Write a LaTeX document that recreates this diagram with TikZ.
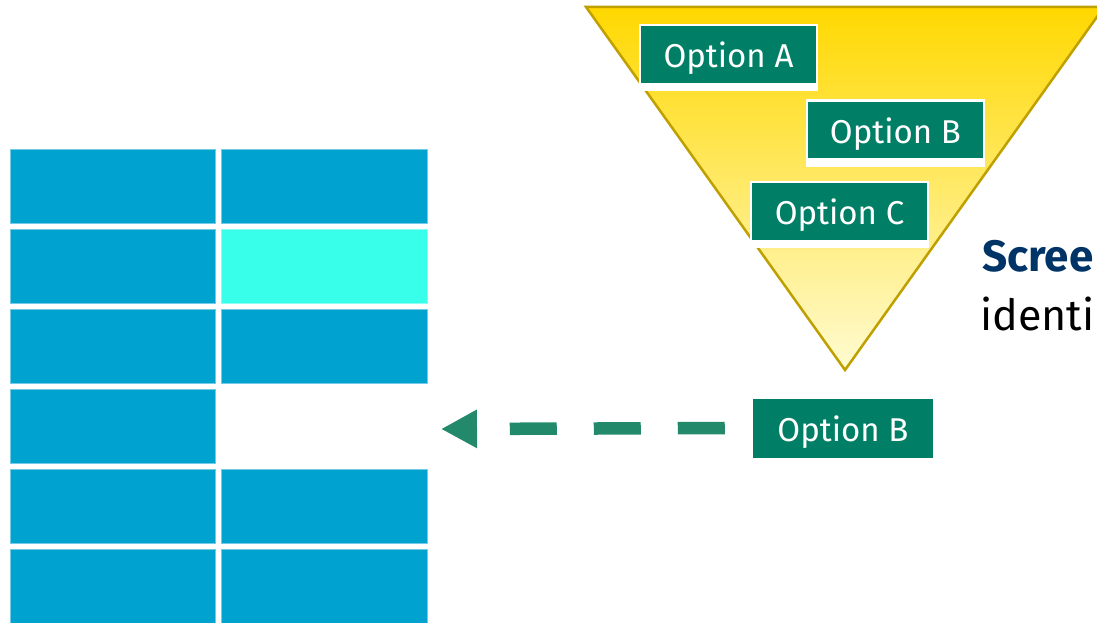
\documentclass[tikz,border=0pt]{standalone}
\usepackage{fontspec}
\setmainfont{Fira Sans}
\usetikzlibrary{arrows.meta}
\definecolor{cellblue}{HTML}{00A3D0}
\definecolor{cellcyan}{HTML}{38FFEA}
\definecolor{optgreen}{HTML}{007F66}
\definecolor{arrowgreen}{HTML}{22896A}
\definecolor{funnelgold}{HTML}{FFD800}
\definecolor{funnelpale}{HTML}{FFFBD2}
\definecolor{funneledge}{HTML}{BFA000}
\definecolor{screenblue}{HTML}{003366}
\begin{document}
\begin{tikzpicture}[x=1pt, y=-1pt,
  cell/.style={fill=cellblue, draw=cellblue!55!white, line width=1pt},
  optbox/.style={fill=optgreen, draw=white, line width=2.5pt, text=white,
    minimum width=177pt, minimum height=59pt, inner sep=0pt,
    text height=26pt, text depth=0pt, font=\fontsize{33}{40}\selectfont}]

  \useasboundingbox (0,0) rectangle (1097,623);

  \foreach \r in {0,...,5} \draw[cell] (10,149+80*\r) rectangle ++(205,74.5);
  \foreach \r in {0,2,4,5} \draw[cell] (221,149+80*\r) rectangle ++(206,74.5);
  \draw[cell, fill=cellcyan, draw=cellcyan!60!white] (221,229) rectangle ++(206,74.5);

  \shade[top color=funnelgold, bottom color=funnelpale] (586,7) -- (1104,7) -- (845,370) -- cycle;
  \draw[funneledge, line width=2.5pt] (586,7) -- (1104,7) -- (845,370) -- cycle;

  \node[optbox] (optA) at (728.5,54.5) {Option A};
  \node[optbox] (optB) at (895.5,130) {Option B};
  \node[optbox] (optC) at (839.5,211.5) {Option C};
  \foreach \n in {optA,optB,optC}
    \fill[white] (\n.south west) rectangle ([yshift=-6pt]\n.south east);

  \node[optbox, draw=none, minimum width=180pt] (picked) at (843,428) {Option B};
  \coordinate (slot) at (441,429);
  \draw[arrowgreen, line width=12.5pt, dash pattern=on 47pt off 37pt, shorten <=27pt,
    -{Triangle[length=36pt, width=36pt]}] (picked.west) -- (slot);

  \node[anchor=base west, inner sep=0pt, text=screenblue,
    font=\bfseries\fontsize{44}{50}\selectfont] (scree) at (982,271) {Scree};
  \node[anchor=base west, inner sep=0pt, font=\fontsize{43}{50}\selectfont] (identi) at (980,330) {identi};
\end{tikzpicture}
\end{document}
